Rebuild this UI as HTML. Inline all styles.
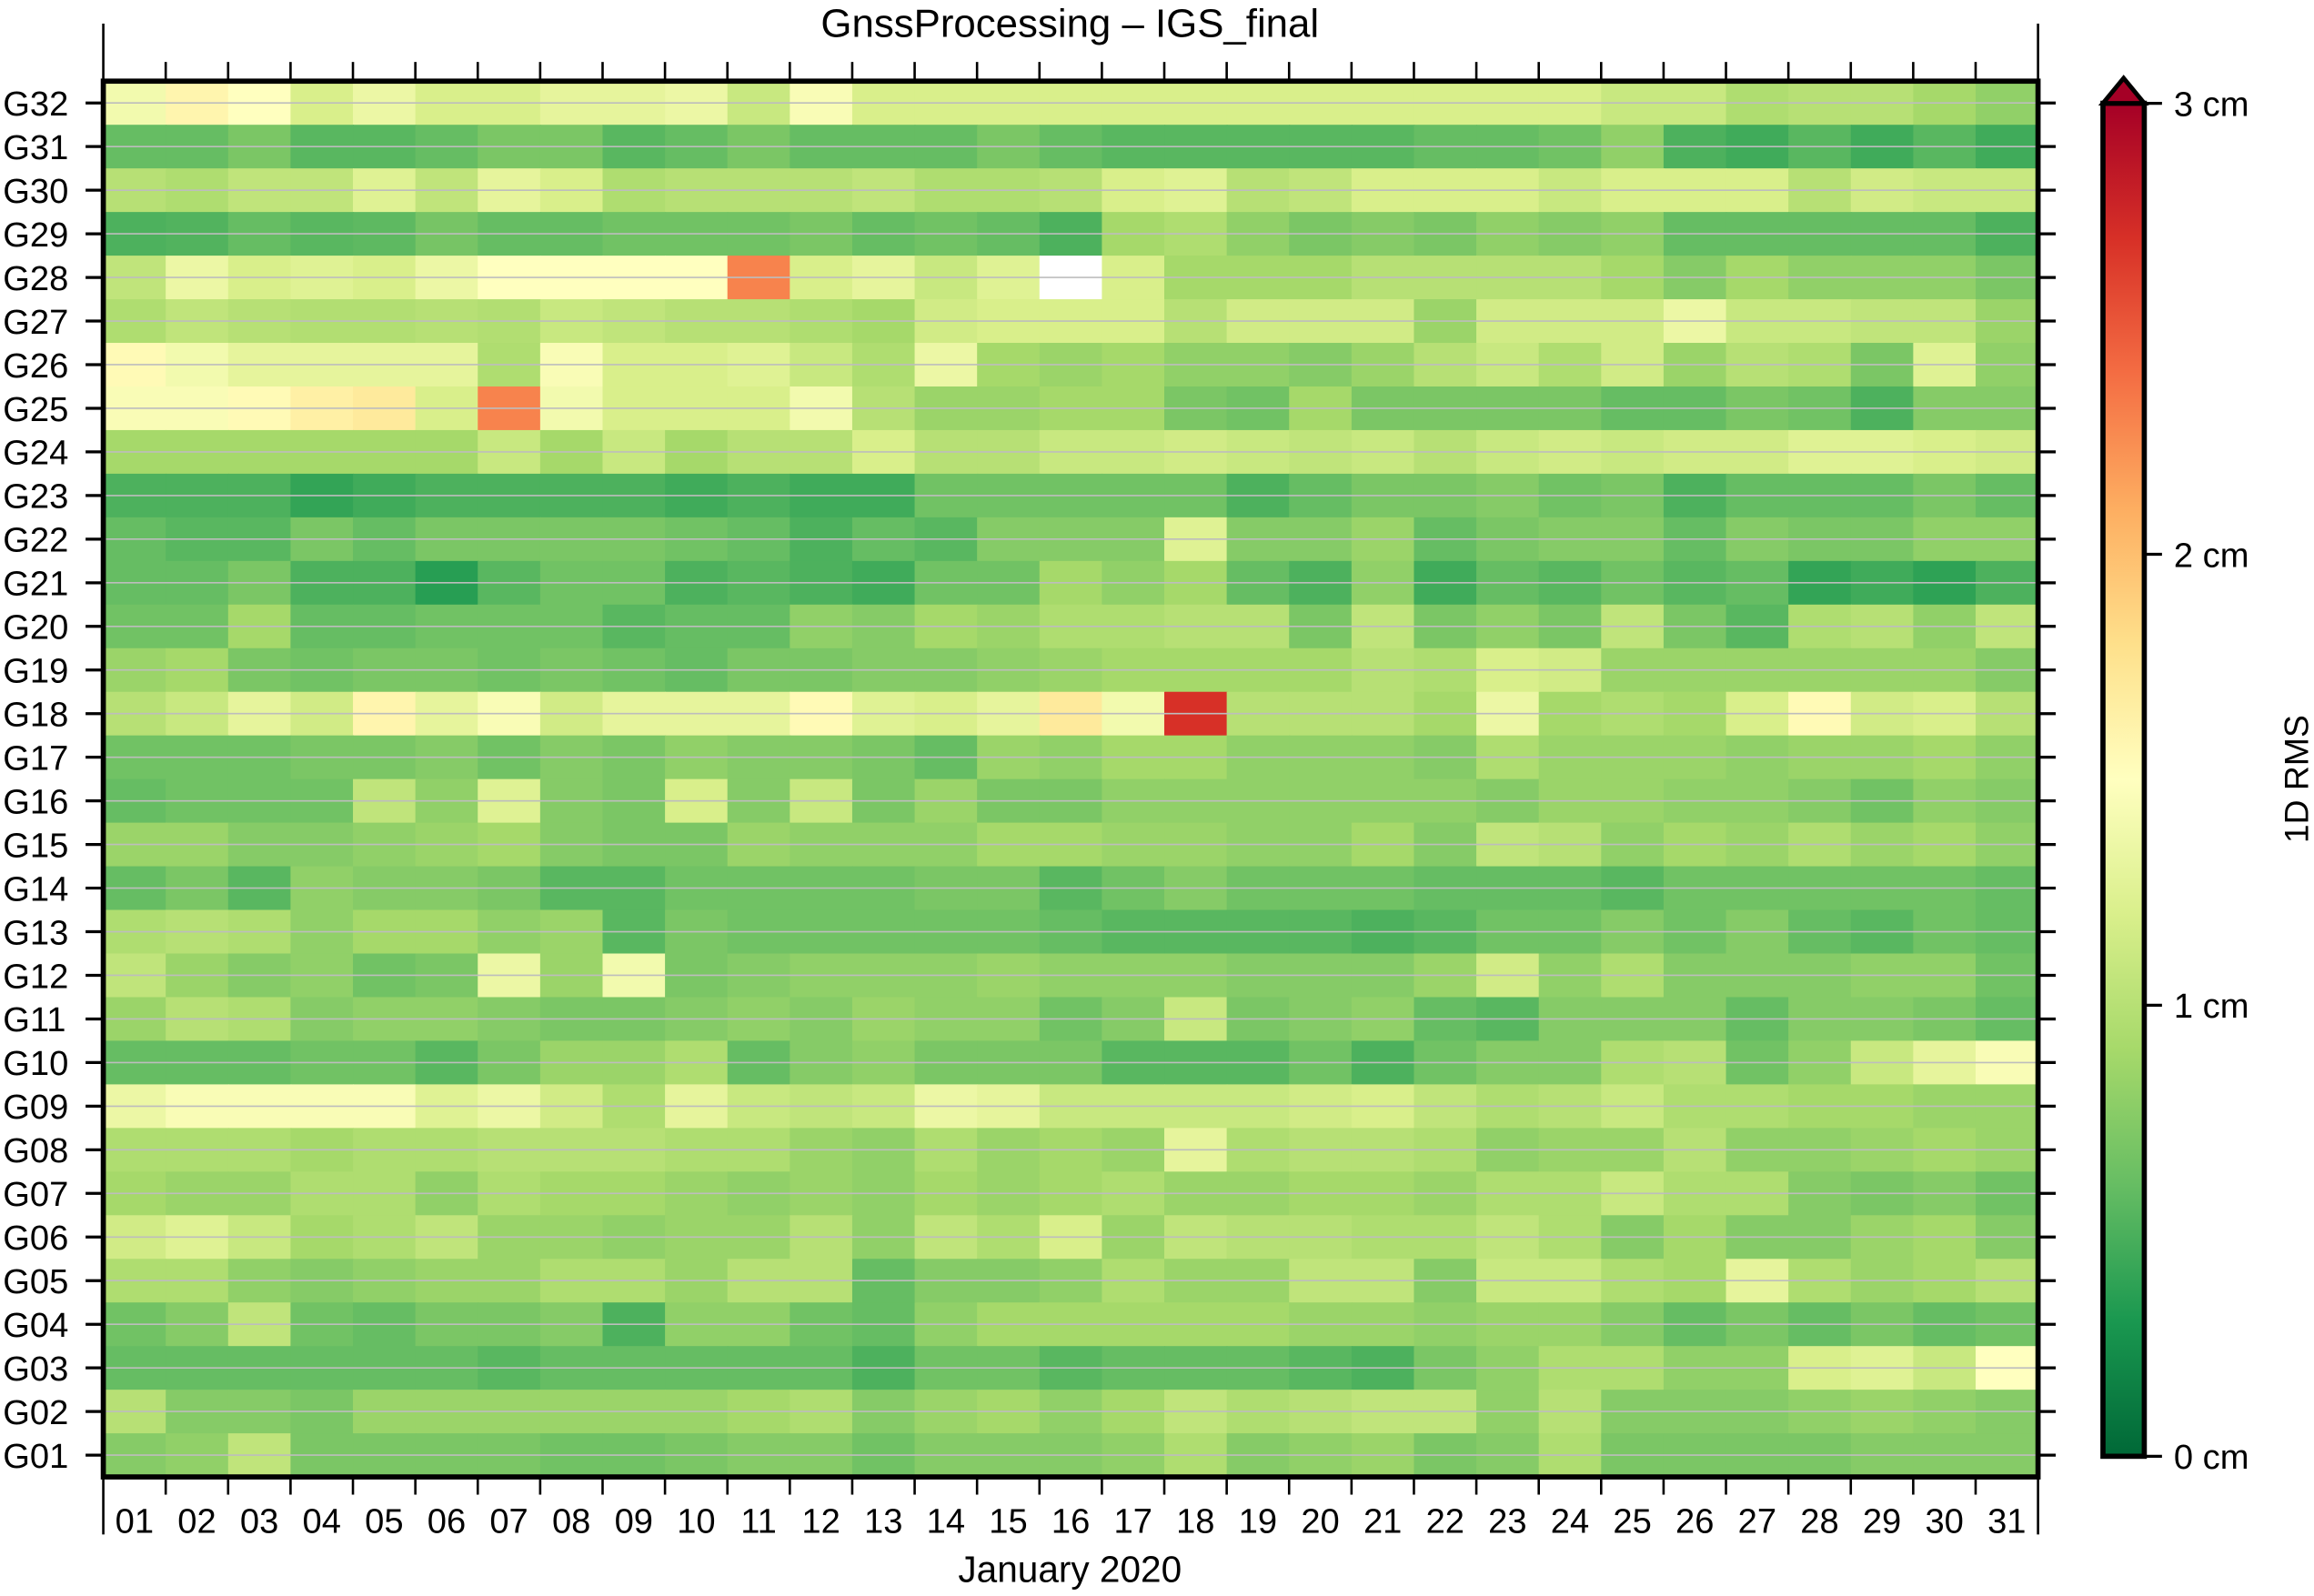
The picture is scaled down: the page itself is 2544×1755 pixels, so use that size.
<!DOCTYPE html>
<html><head><meta charset="utf-8"><style>
html,body{margin:0;padding:0;background:#fff;}
svg{display:block;font-family:"Liberation Sans",Arial,sans-serif;}
</style></head><body>
<svg id="chart" width="2544" height="1755" viewBox="0 0 1568 1081.7" xmlns="http://www.w3.org/2000/svg">
<defs>
<linearGradient id="cbgrad" x1="0" y1="1" x2="0" y2="0">
<stop offset="0" stop-color="#006837"/><stop offset="0.1" stop-color="#1a9850"/><stop offset="0.2" stop-color="#66bd63"/><stop offset="0.3" stop-color="#a6d96a"/><stop offset="0.4" stop-color="#d9ef8b"/><stop offset="0.5" stop-color="#ffffbf"/><stop offset="0.6" stop-color="#fee08b"/><stop offset="0.7" stop-color="#fdae61"/><stop offset="0.8" stop-color="#f46d43"/><stop offset="0.9" stop-color="#d73027"/><stop offset="1" stop-color="#a50026"/>
</linearGradient>
</defs>
<g id="cells"></g>
<g id="grid"></g>
<g id="axes"></g>
<text x="725" y="25" font-size="27" text-anchor="middle">GnssProcessing – IGS_final</text>
<text x="725" y="1072" font-size="25" text-anchor="middle">January 2020</text>
<g>
<rect x="1425" y="70" width="28" height="917" fill="url(#cbgrad)" stroke="#000" stroke-width="3.5"/>
<polygon points="1425,70 1453,70 1439,53" fill="#a50026" stroke="#000" stroke-width="3"/>
</g>
<g id="cbticks"></g>
<text transform="translate(1564,528) rotate(-90)" font-size="23" text-anchor="middle">1D RMS</text>
</svg>
<script>
const sats = ["G32","G31","G30","G29","G28","G27","G26","G25","G24","G23","G22","G21","G20","G19","G18","G17","G16","G15","G14","G13","G12","G11","G10","G09","G08","G07","G06","G05","G04","G03","G02","G01"];
const days = ["01","02","03","04","05","06","07","08","09","10","11","12","13","14","15","16","17","18","19","20","21","22","23","24","25","26","27","28","29","30","31"];
const cbTicks = [0,1,2,3];
const cbLabels = ["0 cm","1 cm","2 cm","3 cm"];
const G32 = [1.4,1.6,1.5,1.2,1.35,1.2,1.2,1.3,1.3,1.35,1.1,1.45,1.2,1.2,1.2,1.2,1.2,1.2,1.2,1.2,1.2,1.2,1.2,1.2,1.1,1.1,0.95,1.0,1.0,0.9,0.8];
const G31 = [0.6,0.6,0.7,0.55,0.55,0.6,0.7,0.7,0.55,0.6,0.7,0.6,0.6,0.6,0.7,0.6,0.55,0.55,0.55,0.55,0.55,0.6,0.6,0.65,0.8,0.5,0.45,0.55,0.45,0.55,0.45];
const G30 = [1.0,0.95,1.05,1.05,1.25,1.05,1.3,1.2,0.95,1.0,1.0,1.0,1.05,0.95,0.95,1.0,1.2,1.25,1.0,1.05,1.2,1.2,1.2,1.1,1.2,1.2,1.2,1.0,1.15,1.1,1.1];
const G29 = [0.5,0.52,0.6,0.55,0.57,0.68,0.6,0.6,0.65,0.65,0.65,0.7,0.6,0.65,0.6,0.5,0.9,0.95,0.8,0.7,0.75,0.7,0.8,0.75,0.8,0.6,0.6,0.6,0.6,0.6,0.5];
const G28 = [1.05,1.35,1.2,1.25,1.2,1.35,1.5,1.5,1.5,1.5,2.3,1.2,1.3,1.1,1.25,null,1.2,0.9,0.9,0.9,1.0,1.0,1.0,1.0,0.9,0.75,0.9,0.8,0.8,0.8,0.7];
const G27 = [0.95,1.05,1.0,0.97,0.97,1.0,0.97,1.1,1.05,1.0,1.0,0.95,0.9,1.15,1.2,1.2,1.2,1.0,1.15,1.15,1.15,0.85,1.15,1.15,1.15,1.35,1.1,1.1,1.05,1.05,0.85];
const G26 = [1.55,1.4,1.3,1.3,1.3,1.3,0.95,1.45,1.2,1.2,1.25,1.1,0.95,1.35,0.9,0.85,0.9,0.8,0.8,0.75,0.85,1.0,1.1,0.95,1.15,0.85,1.0,0.95,0.7,1.25,0.8];
const G25 = [1.45,1.45,1.55,1.65,1.7,1.2,2.3,1.4,1.2,1.2,1.2,1.4,1.0,0.85,0.85,0.9,0.9,0.7,0.65,0.9,0.7,0.7,0.7,0.7,0.6,0.6,0.7,0.65,0.5,0.75,0.75];
const G24 = [0.9,0.9,0.9,0.9,0.9,0.9,1.1,0.9,1.1,0.9,1.0,1.0,1.2,1.0,1.0,1.1,1.1,1.15,1.1,1.05,1.1,1.0,1.1,1.15,1.1,1.15,1.15,1.25,1.25,1.2,1.15];
const G23 = [0.5,0.5,0.5,0.4,0.45,0.5,0.5,0.5,0.5,0.45,0.5,0.45,0.45,0.65,0.65,0.65,0.65,0.65,0.5,0.6,0.7,0.7,0.75,0.65,0.7,0.5,0.6,0.6,0.6,0.7,0.6];
const G22 = [0.6,0.55,0.55,0.7,0.6,0.7,0.7,0.7,0.7,0.65,0.6,0.5,0.6,0.55,0.75,0.75,0.75,1.25,0.75,0.75,0.85,0.6,0.7,0.75,0.75,0.6,0.75,0.7,0.7,0.8,0.8];
const G21 = [0.6,0.6,0.7,0.5,0.5,0.35,0.55,0.65,0.65,0.5,0.55,0.5,0.45,0.65,0.65,0.9,0.8,0.9,0.6,0.5,0.8,0.45,0.6,0.55,0.65,0.55,0.6,0.4,0.45,0.38,0.5];
const G20 = [0.65,0.65,0.9,0.6,0.6,0.65,0.65,0.65,0.55,0.6,0.6,0.8,0.75,0.9,0.85,0.95,0.95,1.0,1.0,0.7,1.05,0.7,0.8,0.7,1.05,0.7,0.55,0.95,1.0,0.8,1.05];
const G19 = [0.85,0.9,0.7,0.65,0.7,0.7,0.65,0.7,0.65,0.6,0.7,0.7,0.75,0.75,0.8,0.85,0.9,0.9,0.9,0.9,1.0,0.95,1.2,1.15,0.85,0.85,0.85,0.85,0.85,0.85,0.75];
const G18 = [1.0,1.1,1.3,1.15,1.6,1.3,1.45,1.15,1.3,1.3,1.3,1.55,1.25,1.2,1.3,1.7,1.4,2.7,1.0,1.0,1.0,0.9,1.35,0.9,0.95,0.9,1.2,1.55,1.15,1.2,1.0];
const G17 = [0.65,0.65,0.65,0.7,0.7,0.75,0.65,0.75,0.7,0.8,0.75,0.75,0.7,0.6,0.85,0.8,0.9,0.9,0.8,0.8,0.8,0.75,0.95,0.85,0.85,0.85,0.8,0.85,0.85,0.9,0.8];
const G16 = [0.6,0.65,0.65,0.65,1.05,0.8,1.25,0.75,0.7,1.2,0.75,1.1,0.7,0.85,0.7,0.7,0.8,0.8,0.8,0.8,0.8,0.8,0.75,0.85,0.85,0.8,0.8,0.75,0.65,0.8,0.75];
const G15 = [0.85,0.85,0.75,0.75,0.8,0.85,0.9,0.75,0.7,0.7,0.85,0.8,0.8,0.8,0.9,0.9,0.85,0.85,0.8,0.8,0.9,0.75,1.05,1.0,0.8,0.9,0.85,0.95,0.85,0.9,0.8];
const G14 = [0.6,0.7,0.55,0.8,0.75,0.75,0.7,0.55,0.55,0.65,0.65,0.65,0.65,0.7,0.7,0.55,0.65,0.75,0.65,0.65,0.65,0.6,0.6,0.6,0.55,0.65,0.65,0.65,0.65,0.65,0.6];
const G13 = [0.95,1.0,0.95,0.8,0.9,0.9,0.8,0.85,0.55,0.7,0.65,0.65,0.65,0.65,0.65,0.6,0.55,0.55,0.55,0.55,0.5,0.55,0.65,0.65,0.75,0.65,0.75,0.6,0.55,0.65,0.6];
const G12 = [1.05,0.85,0.75,0.8,0.65,0.7,1.35,0.85,1.4,0.7,0.75,0.8,0.8,0.8,0.85,0.8,0.8,0.8,0.75,0.75,0.75,0.85,1.15,0.8,0.95,0.75,0.75,0.75,0.8,0.8,0.65];
const G11 = [0.85,1.0,0.95,0.75,0.8,0.8,0.75,0.7,0.7,0.75,0.8,0.75,0.85,0.8,0.8,0.65,0.75,1.1,0.7,0.75,0.8,0.6,0.55,0.75,0.75,0.75,0.6,0.75,0.75,0.7,0.6];
const G10 = [0.6,0.6,0.6,0.65,0.65,0.55,0.7,0.85,0.85,0.95,0.6,0.75,0.8,0.7,0.7,0.7,0.55,0.55,0.55,0.65,0.5,0.65,0.75,0.75,0.95,1.0,0.65,0.8,1.1,1.3,1.45];
const G09 = [1.35,1.45,1.45,1.45,1.45,1.25,1.35,1.15,0.95,1.3,1.1,1.05,1.1,1.35,1.3,1.1,1.1,1.1,1.1,1.15,1.2,1.05,0.95,1.0,1.1,0.95,0.95,0.9,0.9,0.85,0.85];
const G08 = [0.95,0.95,0.95,0.9,0.95,0.95,1.0,1.0,1.0,0.95,0.95,0.85,0.8,0.95,0.85,0.9,0.85,1.3,0.95,1.0,1.0,0.95,0.8,0.85,0.85,1.0,0.8,0.8,0.85,0.9,0.85];
const G07 = [0.9,0.85,0.85,0.95,0.95,0.8,0.95,0.9,0.9,0.85,0.8,0.85,0.8,0.9,0.85,0.9,0.95,0.85,0.85,0.9,0.9,0.85,0.95,0.95,1.1,0.95,0.95,0.75,0.7,0.75,0.65];
const G06 = [1.15,1.25,1.1,0.9,0.95,1.05,0.85,0.85,0.8,0.85,0.85,1.0,0.8,1.05,0.95,1.2,0.85,1.05,1.0,1.0,0.95,0.95,1.05,0.95,0.75,0.9,0.75,0.75,0.85,0.9,0.75];
const G05 = [0.95,0.95,0.8,0.75,0.8,0.85,0.85,0.95,0.95,0.85,1.0,1.0,0.6,0.75,0.75,0.8,0.95,0.85,0.85,1.05,1.05,0.75,1.1,1.1,0.95,0.9,1.3,0.95,0.85,0.9,1.0];
const G04 = [0.65,0.75,1.05,0.65,0.6,0.7,0.7,0.75,0.5,0.8,0.8,0.65,0.6,0.8,0.9,0.9,0.9,0.9,0.9,0.85,0.85,0.8,0.85,0.85,0.75,0.6,0.7,0.6,0.7,0.6,0.65];
const G03 = [0.6,0.6,0.6,0.6,0.6,0.6,0.55,0.6,0.6,0.6,0.6,0.6,0.5,0.65,0.65,0.55,0.6,0.6,0.6,0.55,0.5,0.7,0.8,0.95,0.95,0.8,0.8,1.2,1.25,1.1,1.5];
const G02 = [1.0,0.75,0.75,0.7,0.85,0.85,0.85,0.85,0.85,0.85,0.9,0.95,0.75,0.85,0.9,0.8,0.9,1.05,0.95,1.0,1.05,1.05,0.8,1.0,0.75,0.75,0.75,0.8,0.85,0.8,0.75];
const G01 = [0.75,0.8,1.05,0.7,0.7,0.7,0.7,0.65,0.65,0.7,0.75,0.75,0.65,0.75,0.75,0.75,0.8,0.95,0.75,0.8,0.85,0.7,0.75,0.95,0.7,0.7,0.7,0.7,0.75,0.75,0.75];
const values = [G32,G31,G30,G29,G28,G27,G26,G25,G24,G23,G22,G21,G20,G19,G18,G17,G16,G15,G14,G13,G12,G11,G10,G09,G08,G07,G06,G05,G04,G03,G02,G01];

const NS = "http://www.w3.org/2000/svg";
const X0 = 70, X1 = 1381, Y0 = 55, Y1 = 1001;
const cw = (X1 - X0) / days.length, rh = (Y1 - Y0) / sats.length;
function xScale(i){ return X0 + i * cw; }
function yScale(i){ return Y0 + i * rh; }
function cbScale(v){ return 987 - (v / 3) * 917; }
const stops = ["#006837","#1a9850","#66bd63","#a6d96a","#d9ef8b","#ffffbf","#fee08b","#fdae61","#f46d43","#d73027","#a50026"];
function hex(c){ return [parseInt(c.slice(1,3),16),parseInt(c.slice(3,5),16),parseInt(c.slice(5,7),16)]; }
function color(v){
  let t = Math.max(0, Math.min(1, v / 3)) * 10;
  let i = Math.min(9, Math.floor(t)), f = t - i;
  const a = hex(stops[i]), b = hex(stops[i+1]);
  return "rgb(" + a.map((x,k)=>Math.round(x + (b[k]-x)*f)).join(",") + ")";
}
function mk(tag, attrs, parent){
  const e = document.createElementNS(NS, tag);
  for (const k in attrs) e.setAttribute(k, attrs[k]);
  parent.appendChild(e);
  return e;
}
const cells = document.getElementById("cells");
values.forEach((row, r) => {
  row.forEach((v, c) => {
    const rect = mk("rect", {x: xScale(c), y: yScale(r), width: cw + 0.6, height: rh + 0.6, fill: v === null ? "#ffffff" : color(v)}, cells);
    
    
  });
});
const grid = document.getElementById("grid");
sats.forEach((s, r) => {
  const y = yScale(r) + rh / 2;
  const l = mk("line", {x1: X0, x2: X1, y1: y, y2: y, stroke: "#bdbdbd", "stroke-width": 1}, grid);
  
  
});
const axes = document.getElementById("axes");
mk("rect", {x: X0, y: Y0, width: X1 - X0, height: Y1 - Y0, fill: "none", stroke: "#000", "stroke-width": 3.5}, axes);
sats.forEach((s, r) => {
  const y = yScale(r) + rh / 2;
  mk("line", {x1: X0 - 12, x2: X0, y1: y, y2: y, stroke: "#000", "stroke-width": 2}, axes);
  mk("line", {x1: X1, x2: X1 + 12, y1: y, y2: y, stroke: "#000", "stroke-width": 2}, axes);
  const t = mk("text", {x: 2, y: y + 8.5, "font-size": 23.5}, axes);
  t.textContent = s;
  
  
});
for (let c = 0; c <= days.length; c++) {
  const x = xScale(c);
  const long = (c === 0 || c === days.length);
  mk("line", {x1: x, x2: x, y1: long ? 16 : 42, y2: Y0, stroke: "#000", "stroke-width": 1.6}, axes);
  mk("line", {x1: x, x2: x, y1: Y1, y2: long ? 1040 : 1013, stroke: "#000", "stroke-width": 1.6}, axes);
}
days.forEach((d, c) => {
  const t = mk("text", {x: xScale(c) + cw / 2, y: 1039, "font-size": 23.5, "text-anchor": "middle"}, axes);
  t.textContent = d;
  
  
});
const cbt = document.getElementById("cbticks");
cbTicks.forEach((v, i) => {
  const y = cbScale(v);
  mk("line", {x1: 1453, x2: 1465, y1: y, y2: y, stroke: "#000", "stroke-width": 2}, cbt);
  const t = mk("text", {x: 1473, y: y + 8.5, "font-size": 23.5}, cbt);
  t.textContent = cbLabels[i];
  
  
});
</script>
</body></html>
